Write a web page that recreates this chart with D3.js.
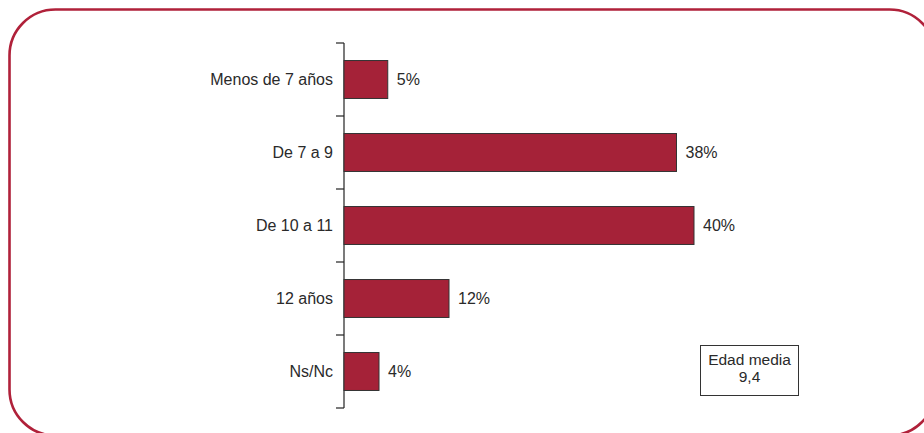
<!DOCTYPE html>
<html><head><meta charset="utf-8">
<script src="https://cdn.jsdelivr.net/npm/d3@7"></script>
<style>html,body{margin:0;padding:0;background:#fff;overflow:hidden}</style>
</head><body>
<script>
const categories = ["Menos de 7 años","De 7 a 9","De 10 a 11","12 años","Ns/Nc"];
const values = [5, 38, 40, 12, 4];
const valueLabels = ["5%","38%","40%","12%","4%"];
const boxLines = ["Edad media","9,4"];

const W = 924, H = 433;
const svg = d3.select("body").append("svg").attr("width", W).attr("height", H)
  .style("font-family", "'Liberation Sans', Arial, Helvetica, sans-serif");

svg.append("rect").attr("x", 9.5).attr("y", 9.5).attr("width", 926).attr("height", 426)
  .attr("rx", 46).attr("ry", 46).attr("fill", "none").attr("stroke", "#b0213a").attr("stroke-width", 2.6);

const x0 = 344, y0 = 43, y1 = 408;
const x = d3.scaleLinear().domain([0, 40]).range([x0, x0 + 350]);
const y = d3.scaleBand().domain(categories).range([y0, y1]).paddingInner(0.48).paddingOuter(0.24);

const bounds = d3.range(categories.length + 1).map(i => y0 + i * (y1 - y0) / categories.length);
const g = svg.append("g");
g.append("line").attr("x1", x0).attr("x2", x0).attr("y1", y0).attr("y2", y1).attr("stroke", "#222").attr("stroke-width", 1.2);
g.selectAll("line.t").data(bounds).join("line").attr("class","t")
  .attr("x1", x0 - 8).attr("x2", x0).attr("y1", d => d).attr("y2", d => d).attr("stroke", "#222").attr("stroke-width", 1.2);

svg.selectAll("rect.bar").data(values).join("rect").attr("class","bar")
  .attr("x", x0).attr("y", (d,i) => y(categories[i]))
  .attr("width", d => x(d) - x0).attr("height", y.bandwidth())
  .attr("fill", "#a52238").attr("stroke", "#333").attr("stroke-width", 1);

svg.selectAll("text.cat").data(categories).join("text").attr("class","cat")
  .attr("x", x0 - 11).attr("y", d => y(d) + y.bandwidth()/2).attr("dy", "0.33em")
  .attr("text-anchor", "end").attr("font-size", 16).attr("fill", "#2a2a2a").text(d => d);

svg.selectAll("text.val").data(values).join("text").attr("class","val")
  .attr("x", d => x(d) + 9).attr("y", (d,i) => y(categories[i]) + y.bandwidth()/2).attr("dy", "0.33em")
  .attr("font-size", 16).attr("fill", "#2a2a2a").text((d,i) => valueLabels[i]);

svg.append("rect").attr("x", 700.5).attr("y", 345.5).attr("width", 98).attr("height", 50)
  .attr("fill", "#fff").attr("stroke", "#333").attr("stroke-width", 1);
svg.selectAll("text.box").data(boxLines).join("text").attr("class","box")
  .attr("x", 749.5).attr("y", (d,i) => 365 + i * 16.5).attr("text-anchor", "middle")
  .attr("font-size", 15.5).attr("fill", "#2a2a2a").text(d => d);
</script>
</body></html>
